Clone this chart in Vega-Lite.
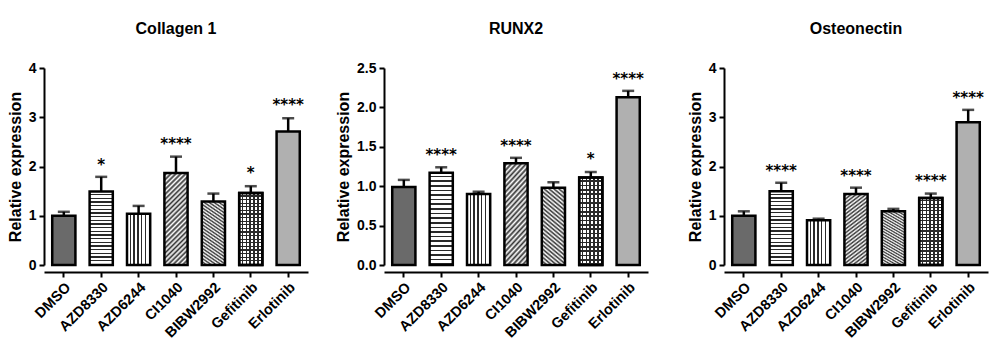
{
  "$schema": "https://vega.github.io/schema/vega-lite/v6.json",
  "padding": {"left": 7, "top": 21, "right": 5, "bottom": 5},
  "autosize": {"type": "pad"},
  "background": "white",
  "data": {"values": [
    {"gene": "Collagen 1", "drug": "DMSO", "value": 1.0, "err": 1.08, "sig": null, "sy": null},
    {"gene": "Collagen 1", "drug": "AZD8330", "value": 1.49, "err": 1.79, "sig": "*", "sy": 2.12},
    {"gene": "Collagen 1", "drug": "AZD6244", "value": 1.04, "err": 1.2, "sig": null, "sy": null},
    {"gene": "Collagen 1", "drug": "CI1040", "value": 1.87, "err": 2.2, "sig": "****", "sy": 2.54},
    {"gene": "Collagen 1", "drug": "BIBW2992", "value": 1.29, "err": 1.45, "sig": null, "sy": null},
    {"gene": "Collagen 1", "drug": "Gefitinib", "value": 1.46, "err": 1.6, "sig": "*", "sy": 1.94},
    {"gene": "Collagen 1", "drug": "Erlotinib", "value": 2.71, "err": 2.98, "sig": "****", "sy": 3.33},
    {"gene": "RUNX2", "drug": "DMSO", "value": 0.99, "err": 1.08, "sig": null, "sy": null},
    {"gene": "RUNX2", "drug": "AZD8330", "value": 1.17, "err": 1.24, "sig": "****", "sy": 1.45},
    {"gene": "RUNX2", "drug": "AZD6244", "value": 0.9, "err": 0.93, "sig": null, "sy": null},
    {"gene": "RUNX2", "drug": "CI1040", "value": 1.29, "err": 1.36, "sig": "****", "sy": 1.56},
    {"gene": "RUNX2", "drug": "BIBW2992", "value": 0.98, "err": 1.05, "sig": null, "sy": null},
    {"gene": "RUNX2", "drug": "Gefitinib", "value": 1.11, "err": 1.18, "sig": "*", "sy": 1.39},
    {"gene": "RUNX2", "drug": "Erlotinib", "value": 2.13, "err": 2.21, "sig": "****", "sy": 2.41},
    {"gene": "Osteonectin", "drug": "DMSO", "value": 1.0, "err": 1.09, "sig": null, "sy": null},
    {"gene": "Osteonectin", "drug": "AZD8330", "value": 1.5, "err": 1.67, "sig": "****", "sy": 1.98},
    {"gene": "Osteonectin", "drug": "AZD6244", "value": 0.91, "err": 0.94, "sig": null, "sy": null},
    {"gene": "Osteonectin", "drug": "CI1040", "value": 1.44, "err": 1.57, "sig": "****", "sy": 1.88},
    {"gene": "Osteonectin", "drug": "BIBW2992", "value": 1.09, "err": 1.14, "sig": null, "sy": null},
    {"gene": "Osteonectin", "drug": "Gefitinib", "value": 1.36, "err": 1.45, "sig": "****", "sy": 1.78},
    {"gene": "Osteonectin", "drug": "Erlotinib", "value": 2.9, "err": 3.15, "sig": "****", "sy": 3.47}
  ]},
  "facet": {
    "column": {
      "field": "gene", "type": "nominal",
      "sort": ["Collagen 1", "RUNX2", "Osteonectin"],
      "title": null,
      "header": {"labelFontSize": 16, "labelFontWeight": "bold", "labelFont": "Liberation Sans", "labelColor": "black", "labelPadding": 24}
    }
  },
  "spacing": 27,
  "resolve": {"scale": {"y": "independent"}, "axis": {"y": "independent"}},
  "spec": {
    "width": 264,
    "height": 197,
    "encoding": {
      "x": {
        "field": "drug", "type": "nominal",
        "sort": ["DMSO", "AZD8330", "AZD6244", "CI1040", "BIBW2992", "Gefitinib", "Erlotinib"],
        "scale": {"paddingInner": 0.38, "paddingOuter": 0.22},
        "axis": {"title": null, "labelAngle": -45, "labelFontSize": 14.5, "labelPadding": 3}
      }
    },
    "layer": [
      {
        "mark": {"type": "rule", "strokeWidth": 2.5, "color": "black"},
        "encoding": {
          "y": {"field": "value", "type": "quantitative", "title": "Relative expression", "scale": {"nice": 4}, "axis": {"tickCount": 4}},
          "y2": {"field": "err"}
        }
      },
      {
        "mark": {"type": "tick", "orient": "horizontal", "size": 12, "thickness": 2.5, "color": "black"},
        "encoding": {
          "y": {"field": "err", "type": "quantitative", "title": "Relative expression"}
        }
      },
      {
        "mark": {"type": "bar", "stroke": "black", "strokeWidth": 2.5},
        "encoding": {
          "y": {"field": "value", "type": "quantitative", "title": "Relative expression"},
          "fill": {
            "condition": [
              {"test": "datum.drug === 'DMSO'", "value": "#6a6a6a"},
              {"test": "datum.drug === 'AZD8330'", "value": {"gradient": "linear", "x1": 0, "y1": 0, "x2": 0, "y2": 1, "stops": [
                {"offset": 0, "color": "#ffffff"}, {"offset": 0.0325, "color": "#ffffff"}, {"offset": 0.0325, "color": "#2a2a2a"}, {"offset": 0.05, "color": "#2a2a2a"},
                {"offset": 0.05, "color": "#ffffff"}, {"offset": 0.0825, "color": "#ffffff"}, {"offset": 0.0825, "color": "#2a2a2a"}, {"offset": 0.1, "color": "#2a2a2a"},
                {"offset": 0.1, "color": "#ffffff"}, {"offset": 0.1325, "color": "#ffffff"}, {"offset": 0.1325, "color": "#2a2a2a"}, {"offset": 0.15, "color": "#2a2a2a"},
                {"offset": 0.15, "color": "#ffffff"}, {"offset": 0.1825, "color": "#ffffff"}, {"offset": 0.1825, "color": "#2a2a2a"}, {"offset": 0.2, "color": "#2a2a2a"},
                {"offset": 0.2, "color": "#ffffff"}, {"offset": 0.2325, "color": "#ffffff"}, {"offset": 0.2325, "color": "#2a2a2a"}, {"offset": 0.25, "color": "#2a2a2a"},
                {"offset": 0.25, "color": "#ffffff"}, {"offset": 0.2825, "color": "#ffffff"}, {"offset": 0.2825, "color": "#2a2a2a"}, {"offset": 0.3, "color": "#2a2a2a"},
                {"offset": 0.3, "color": "#ffffff"}, {"offset": 0.3325, "color": "#ffffff"}, {"offset": 0.3325, "color": "#2a2a2a"}, {"offset": 0.35, "color": "#2a2a2a"},
                {"offset": 0.35, "color": "#ffffff"}, {"offset": 0.3825, "color": "#ffffff"}, {"offset": 0.3825, "color": "#2a2a2a"}, {"offset": 0.4, "color": "#2a2a2a"},
                {"offset": 0.4, "color": "#ffffff"}, {"offset": 0.4325, "color": "#ffffff"}, {"offset": 0.4325, "color": "#2a2a2a"}, {"offset": 0.45, "color": "#2a2a2a"},
                {"offset": 0.45, "color": "#ffffff"}, {"offset": 0.4825, "color": "#ffffff"}, {"offset": 0.4825, "color": "#2a2a2a"}, {"offset": 0.5, "color": "#2a2a2a"},
                {"offset": 0.5, "color": "#ffffff"}, {"offset": 0.5325, "color": "#ffffff"}, {"offset": 0.5325, "color": "#2a2a2a"}, {"offset": 0.55, "color": "#2a2a2a"},
                {"offset": 0.55, "color": "#ffffff"}, {"offset": 0.5825, "color": "#ffffff"}, {"offset": 0.5825, "color": "#2a2a2a"}, {"offset": 0.6, "color": "#2a2a2a"},
                {"offset": 0.6, "color": "#ffffff"}, {"offset": 0.6325, "color": "#ffffff"}, {"offset": 0.6325, "color": "#2a2a2a"}, {"offset": 0.65, "color": "#2a2a2a"},
                {"offset": 0.65, "color": "#ffffff"}, {"offset": 0.6825, "color": "#ffffff"}, {"offset": 0.6825, "color": "#2a2a2a"}, {"offset": 0.7, "color": "#2a2a2a"},
                {"offset": 0.7, "color": "#ffffff"}, {"offset": 0.7325, "color": "#ffffff"}, {"offset": 0.7325, "color": "#2a2a2a"}, {"offset": 0.75, "color": "#2a2a2a"},
                {"offset": 0.75, "color": "#ffffff"}, {"offset": 0.7825, "color": "#ffffff"}, {"offset": 0.7825, "color": "#2a2a2a"}, {"offset": 0.8, "color": "#2a2a2a"},
                {"offset": 0.8, "color": "#ffffff"}, {"offset": 0.8325, "color": "#ffffff"}, {"offset": 0.8325, "color": "#2a2a2a"}, {"offset": 0.85, "color": "#2a2a2a"},
                {"offset": 0.85, "color": "#ffffff"}, {"offset": 0.8825, "color": "#ffffff"}, {"offset": 0.8825, "color": "#2a2a2a"}, {"offset": 0.9, "color": "#2a2a2a"},
                {"offset": 0.9, "color": "#ffffff"}, {"offset": 0.9325, "color": "#ffffff"}, {"offset": 0.9325, "color": "#2a2a2a"}, {"offset": 0.95, "color": "#2a2a2a"},
                {"offset": 0.95, "color": "#ffffff"}, {"offset": 0.9825, "color": "#ffffff"}, {"offset": 0.9825, "color": "#2a2a2a"}, {"offset": 1, "color": "#2a2a2a"}
              ]}},
              {"test": "datum.drug === 'AZD6244' || datum.drug === 'Gefitinib'", "value": {"gradient": "linear", "x1": 0, "y1": 0, "x2": 1, "y2": 0, "stops": [
                {"offset": 0, "color": "#ffffff"}, {"offset": 0.1083, "color": "#ffffff"}, {"offset": 0.1083, "color": "#2a2a2a"}, {"offset": 0.1667, "color": "#2a2a2a"},
                {"offset": 0.1667, "color": "#ffffff"}, {"offset": 0.275, "color": "#ffffff"}, {"offset": 0.275, "color": "#2a2a2a"}, {"offset": 0.3333, "color": "#2a2a2a"},
                {"offset": 0.3333, "color": "#ffffff"}, {"offset": 0.4417, "color": "#ffffff"}, {"offset": 0.4417, "color": "#2a2a2a"}, {"offset": 0.5, "color": "#2a2a2a"},
                {"offset": 0.5, "color": "#ffffff"}, {"offset": 0.6083, "color": "#ffffff"}, {"offset": 0.6083, "color": "#2a2a2a"}, {"offset": 0.6667, "color": "#2a2a2a"},
                {"offset": 0.6667, "color": "#ffffff"}, {"offset": 0.775, "color": "#ffffff"}, {"offset": 0.775, "color": "#2a2a2a"}, {"offset": 0.8333, "color": "#2a2a2a"},
                {"offset": 0.8333, "color": "#ffffff"}, {"offset": 0.9417, "color": "#ffffff"}, {"offset": 0.9417, "color": "#2a2a2a"}, {"offset": 1, "color": "#2a2a2a"}
              ]}},
              {"test": "datum.drug === 'CI1040'", "value": {"gradient": "linear", "x1": 0, "y1": 0, "x2": 0.3, "y2": 1.2, "stops": [
                {"offset": 0, "color": "#ffffff"}, {"offset": 0.02083, "color": "#333333"}, {"offset": 0.04167, "color": "#ffffff"}, {"offset": 0.0625, "color": "#333333"},
                {"offset": 0.08333, "color": "#ffffff"}, {"offset": 0.10417, "color": "#333333"}, {"offset": 0.125, "color": "#ffffff"}, {"offset": 0.14583, "color": "#333333"},
                {"offset": 0.16667, "color": "#ffffff"}, {"offset": 0.1875, "color": "#333333"}, {"offset": 0.20833, "color": "#ffffff"}, {"offset": 0.22917, "color": "#333333"},
                {"offset": 0.25, "color": "#ffffff"}, {"offset": 0.27083, "color": "#333333"}, {"offset": 0.29167, "color": "#ffffff"}, {"offset": 0.3125, "color": "#333333"},
                {"offset": 0.33333, "color": "#ffffff"}, {"offset": 0.35417, "color": "#333333"}, {"offset": 0.375, "color": "#ffffff"}, {"offset": 0.39583, "color": "#333333"},
                {"offset": 0.41667, "color": "#ffffff"}, {"offset": 0.4375, "color": "#333333"}, {"offset": 0.45833, "color": "#ffffff"}, {"offset": 0.47917, "color": "#333333"},
                {"offset": 0.5, "color": "#ffffff"}, {"offset": 0.52083, "color": "#333333"}, {"offset": 0.54167, "color": "#ffffff"}, {"offset": 0.5625, "color": "#333333"},
                {"offset": 0.58333, "color": "#ffffff"}, {"offset": 0.60417, "color": "#333333"}, {"offset": 0.625, "color": "#ffffff"}, {"offset": 0.64583, "color": "#333333"},
                {"offset": 0.66667, "color": "#ffffff"}, {"offset": 0.6875, "color": "#333333"}, {"offset": 0.70833, "color": "#ffffff"}, {"offset": 0.72917, "color": "#333333"},
                {"offset": 0.75, "color": "#ffffff"}, {"offset": 0.77083, "color": "#333333"}, {"offset": 0.79167, "color": "#ffffff"}, {"offset": 0.8125, "color": "#333333"},
                {"offset": 0.83333, "color": "#ffffff"}, {"offset": 0.85417, "color": "#333333"}, {"offset": 0.875, "color": "#ffffff"}, {"offset": 0.89583, "color": "#333333"},
                {"offset": 0.91667, "color": "#ffffff"}, {"offset": 0.9375, "color": "#333333"}, {"offset": 0.95833, "color": "#ffffff"}, {"offset": 0.97917, "color": "#333333"},
                {"offset": 1, "color": "#ffffff"}
              ]}},
              {"test": "datum.drug === 'BIBW2992'", "value": {"gradient": "linear", "x1": 1, "y1": 0, "x2": 0.7, "y2": 1.2, "stops": [
                {"offset": 0, "color": "#ffffff"}, {"offset": 0.02083, "color": "#333333"}, {"offset": 0.04167, "color": "#ffffff"}, {"offset": 0.0625, "color": "#333333"},
                {"offset": 0.08333, "color": "#ffffff"}, {"offset": 0.10417, "color": "#333333"}, {"offset": 0.125, "color": "#ffffff"}, {"offset": 0.14583, "color": "#333333"},
                {"offset": 0.16667, "color": "#ffffff"}, {"offset": 0.1875, "color": "#333333"}, {"offset": 0.20833, "color": "#ffffff"}, {"offset": 0.22917, "color": "#333333"},
                {"offset": 0.25, "color": "#ffffff"}, {"offset": 0.27083, "color": "#333333"}, {"offset": 0.29167, "color": "#ffffff"}, {"offset": 0.3125, "color": "#333333"},
                {"offset": 0.33333, "color": "#ffffff"}, {"offset": 0.35417, "color": "#333333"}, {"offset": 0.375, "color": "#ffffff"}, {"offset": 0.39583, "color": "#333333"},
                {"offset": 0.41667, "color": "#ffffff"}, {"offset": 0.4375, "color": "#333333"}, {"offset": 0.45833, "color": "#ffffff"}, {"offset": 0.47917, "color": "#333333"},
                {"offset": 0.5, "color": "#ffffff"}, {"offset": 0.52083, "color": "#333333"}, {"offset": 0.54167, "color": "#ffffff"}, {"offset": 0.5625, "color": "#333333"},
                {"offset": 0.58333, "color": "#ffffff"}, {"offset": 0.60417, "color": "#333333"}, {"offset": 0.625, "color": "#ffffff"}, {"offset": 0.64583, "color": "#333333"},
                {"offset": 0.66667, "color": "#ffffff"}, {"offset": 0.6875, "color": "#333333"}, {"offset": 0.70833, "color": "#ffffff"}, {"offset": 0.72917, "color": "#333333"},
                {"offset": 0.75, "color": "#ffffff"}, {"offset": 0.77083, "color": "#333333"}, {"offset": 0.79167, "color": "#ffffff"}, {"offset": 0.8125, "color": "#333333"},
                {"offset": 0.83333, "color": "#ffffff"}, {"offset": 0.85417, "color": "#333333"}, {"offset": 0.875, "color": "#ffffff"}, {"offset": 0.89583, "color": "#333333"},
                {"offset": 0.91667, "color": "#ffffff"}, {"offset": 0.9375, "color": "#333333"}, {"offset": 0.95833, "color": "#ffffff"}, {"offset": 0.97917, "color": "#333333"},
                {"offset": 1, "color": "#ffffff"}
              ]}}
            ],
            "value": "#b0b0b0"
          }
        }
      },
      {
        "transform": [{"filter": "datum.drug === 'Gefitinib'"}],
        "mark": {"type": "bar", "stroke": "black", "strokeWidth": 2.5, "fill": {"gradient": "linear", "x1": 0, "y1": 0, "x2": 0, "y2": 1, "stops": [
                {"offset": 0, "color": "rgba(255,255,255,0)"}, {"offset": 0.0325, "color": "rgba(255,255,255,0)"}, {"offset": 0.0325, "color": "#2a2a2a"}, {"offset": 0.05, "color": "#2a2a2a"},
                {"offset": 0.05, "color": "rgba(255,255,255,0)"}, {"offset": 0.0825, "color": "rgba(255,255,255,0)"}, {"offset": 0.0825, "color": "#2a2a2a"}, {"offset": 0.1, "color": "#2a2a2a"},
                {"offset": 0.1, "color": "rgba(255,255,255,0)"}, {"offset": 0.1325, "color": "rgba(255,255,255,0)"}, {"offset": 0.1325, "color": "#2a2a2a"}, {"offset": 0.15, "color": "#2a2a2a"},
                {"offset": 0.15, "color": "rgba(255,255,255,0)"}, {"offset": 0.1825, "color": "rgba(255,255,255,0)"}, {"offset": 0.1825, "color": "#2a2a2a"}, {"offset": 0.2, "color": "#2a2a2a"},
                {"offset": 0.2, "color": "rgba(255,255,255,0)"}, {"offset": 0.2325, "color": "rgba(255,255,255,0)"}, {"offset": 0.2325, "color": "#2a2a2a"}, {"offset": 0.25, "color": "#2a2a2a"},
                {"offset": 0.25, "color": "rgba(255,255,255,0)"}, {"offset": 0.2825, "color": "rgba(255,255,255,0)"}, {"offset": 0.2825, "color": "#2a2a2a"}, {"offset": 0.3, "color": "#2a2a2a"},
                {"offset": 0.3, "color": "rgba(255,255,255,0)"}, {"offset": 0.3325, "color": "rgba(255,255,255,0)"}, {"offset": 0.3325, "color": "#2a2a2a"}, {"offset": 0.35, "color": "#2a2a2a"},
                {"offset": 0.35, "color": "rgba(255,255,255,0)"}, {"offset": 0.3825, "color": "rgba(255,255,255,0)"}, {"offset": 0.3825, "color": "#2a2a2a"}, {"offset": 0.4, "color": "#2a2a2a"},
                {"offset": 0.4, "color": "rgba(255,255,255,0)"}, {"offset": 0.4325, "color": "rgba(255,255,255,0)"}, {"offset": 0.4325, "color": "#2a2a2a"}, {"offset": 0.45, "color": "#2a2a2a"},
                {"offset": 0.45, "color": "rgba(255,255,255,0)"}, {"offset": 0.4825, "color": "rgba(255,255,255,0)"}, {"offset": 0.4825, "color": "#2a2a2a"}, {"offset": 0.5, "color": "#2a2a2a"},
                {"offset": 0.5, "color": "rgba(255,255,255,0)"}, {"offset": 0.5325, "color": "rgba(255,255,255,0)"}, {"offset": 0.5325, "color": "#2a2a2a"}, {"offset": 0.55, "color": "#2a2a2a"},
                {"offset": 0.55, "color": "rgba(255,255,255,0)"}, {"offset": 0.5825, "color": "rgba(255,255,255,0)"}, {"offset": 0.5825, "color": "#2a2a2a"}, {"offset": 0.6, "color": "#2a2a2a"},
                {"offset": 0.6, "color": "rgba(255,255,255,0)"}, {"offset": 0.6325, "color": "rgba(255,255,255,0)"}, {"offset": 0.6325, "color": "#2a2a2a"}, {"offset": 0.65, "color": "#2a2a2a"},
                {"offset": 0.65, "color": "rgba(255,255,255,0)"}, {"offset": 0.6825, "color": "rgba(255,255,255,0)"}, {"offset": 0.6825, "color": "#2a2a2a"}, {"offset": 0.7, "color": "#2a2a2a"},
                {"offset": 0.7, "color": "rgba(255,255,255,0)"}, {"offset": 0.7325, "color": "rgba(255,255,255,0)"}, {"offset": 0.7325, "color": "#2a2a2a"}, {"offset": 0.75, "color": "#2a2a2a"},
                {"offset": 0.75, "color": "rgba(255,255,255,0)"}, {"offset": 0.7825, "color": "rgba(255,255,255,0)"}, {"offset": 0.7825, "color": "#2a2a2a"}, {"offset": 0.8, "color": "#2a2a2a"},
                {"offset": 0.8, "color": "rgba(255,255,255,0)"}, {"offset": 0.8325, "color": "rgba(255,255,255,0)"}, {"offset": 0.8325, "color": "#2a2a2a"}, {"offset": 0.85, "color": "#2a2a2a"},
                {"offset": 0.85, "color": "rgba(255,255,255,0)"}, {"offset": 0.8825, "color": "rgba(255,255,255,0)"}, {"offset": 0.8825, "color": "#2a2a2a"}, {"offset": 0.9, "color": "#2a2a2a"},
                {"offset": 0.9, "color": "rgba(255,255,255,0)"}, {"offset": 0.9325, "color": "rgba(255,255,255,0)"}, {"offset": 0.9325, "color": "#2a2a2a"}, {"offset": 0.95, "color": "#2a2a2a"},
                {"offset": 0.95, "color": "rgba(255,255,255,0)"}, {"offset": 0.9825, "color": "rgba(255,255,255,0)"}, {"offset": 0.9825, "color": "#2a2a2a"}, {"offset": 1, "color": "#2a2a2a"}
              ]}},
        "encoding": {
          "y": {"field": "value", "type": "quantitative", "title": "Relative expression"}
        }
      },
      {
        "transform": [{"filter": "datum.sig != null"}],
        "mark": {"type": "text", "font": "DejaVu Sans", "fontSize": 15, "fontWeight": "bold", "color": "black", "baseline": "middle", "dy": 4},
        "encoding": {
          "y": {"field": "sy", "type": "quantitative", "title": "Relative expression"},
          "text": {"field": "sig"}
        }
      }
    ]
  },
  "config": {
    "font": "Liberation Sans",
    "view": {"stroke": null},
    "axis": {
      "domainColor": "black", "domainWidth": 2, "tickColor": "black", "tickWidth": 2, "tickSize": 5,
      "labelColor": "black", "labelFont": "Liberation Sans", "labelFontWeight": "bold", "labelFontSize": 13,
      "titleFont": "Liberation Sans", "titleFontWeight": "bold", "titleFontSize": 16, "titleColor": "black",
      "grid": false
    },
    "axisY": {"titlePadding": 5, "labelPadding": 3, "labelFontSize": 14}
  }
}
